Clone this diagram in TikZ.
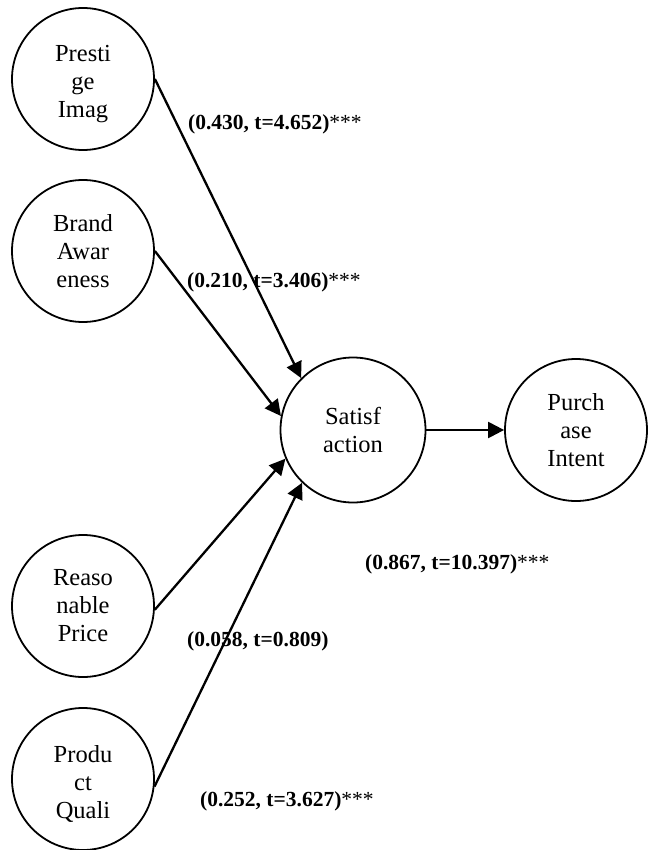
\documentclass[tikz,border=0pt]{standalone}
\usepackage{fontspec}
\setmainfont{Liberation Serif}
\usetikzlibrary{arrows.meta}
\newcommand{\topstrut}{\rule{0pt}{27pt}}
\begin{document}
\begin{tikzpicture}[x=1pt,y=-1pt,
  construct/.style={draw, circle, line width=1.8pt, inner sep=0pt, minimum size=142pt,
    align=center, font=\fontsize{24.5}{28}\selectfont},
  path/.style={draw, line width=2.3pt, -{Triangle[length=16pt,width=16pt]}},
  coef/.style={anchor=west, inner sep=0pt, font=\fontsize{21.5}{24}\selectfont\bfseries}]
\useasboundingbox (0,0) rectangle (647,850);
\node[construct] (pi) at (83,79) {\topstrut Presti\\ge\\Imag};
\node[construct] (ba) at (83,251) {Brand\\Awar\\eness};
\node[construct] (rp) at (83,606) {Reaso\\nable\\Price};
\node[construct] (pq) at (83,779) {\topstrut Produ\\ct\\Quali};
\node[construct, minimum size=145pt] (sa) at (353,430) {Satisf\\action};
\node[construct] (pu) at (576,430) {Purch\\ase\\Intent};
\draw[path] (pi.east) -- (sa.135);
\draw[path] (ba.east) -- (sa.169);
\draw[path] (rp.-3) -- (sa.203);
\draw[path] (pq.-6) -- (sa.226);
\draw[path] (sa.east) -- (pu.west);
\node[coef] (l1) at (188,124) {(0.430, t=4.652)\textmd{***}};
\node[coef] (l2) at (187,282) {(0.210, t=3.406)\textmd{***}};
\node[coef] (l3) at (365,564) {(0.867, t=10.397)\textmd{***}};
\node[coef] (l4) at (187,641) {(0.058, t=0.809)};
\node[coef] (l5) at (200,801) {(0.252, t=3.627)\textmd{***}};
\end{tikzpicture}
\end{document}
